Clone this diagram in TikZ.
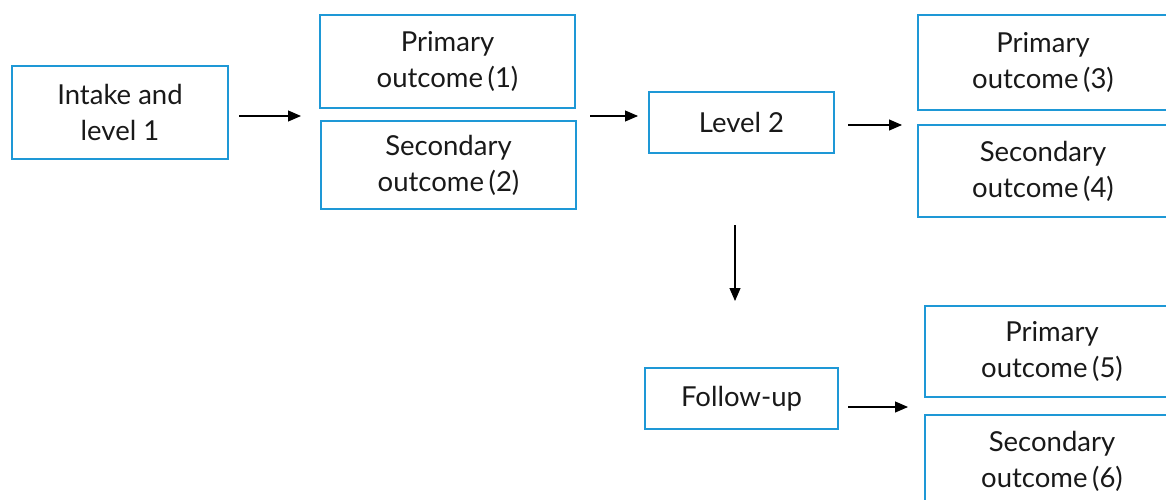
\documentclass[tikz,border=0pt]{standalone}
\usepackage{fontspec}
\setmainfont{Lato}
\usetikzlibrary{arrows.meta}
\definecolor{boxblue}{RGB}{30,152,214}
\begin{document}
\begin{tikzpicture}[x=1pt,y=-1pt,
  box/.style={draw=boxblue,line width=2pt,inner sep=0pt,align=center,
    font=\fontsize{27.5}{36}\selectfont,text=black!90},
  conn/.style={-{Triangle[length=13pt,width=11pt]},line width=1.1pt}]
\useasboundingbox (0,0) rectangle (1166,500);
\clip (0,0) rectangle (1166,500);
\node[box,minimum width=216pt,minimum height=93pt] (a) at (120,112.5) {Intake and\\level 1};
\node[box,minimum width=255pt,minimum height=93pt] (p1) at (447.5,61.5) {Primary\\outcome\,(1)};
\node[box,minimum width=255pt,minimum height=88pt] (s2) at (448.5,165) {Secondary\\outcome\,(2)};
\node[box,minimum width=185pt,minimum height=61pt] (l2) at (741.5,122.5) {Level 2};
\node[box,minimum width=250pt,minimum height=95pt] (p3) at (1043,62.5) {Primary\\outcome\,(3)};
\node[box,minimum width=250pt,minimum height=92pt] (s4) at (1043,171) {Secondary\\outcome\,(4)};
\node[box,minimum width=193pt,minimum height=61pt] (f) at (741.5,398.5) {Follow-up};
\node[box,minimum width=254pt,minimum height=91pt] (p5) at (1052,351.5) {Primary\\outcome\,(5)};
\node[box,minimum width=254pt,minimum height=92pt] (s6) at (1052,461) {Secondary\\outcome\,(6)};
\coordinate (a1s) at (239,116); \coordinate (a1e) at (301,116);
\coordinate (a2s) at (590,116); \coordinate (a2e) at (638,116);
\coordinate (a3s) at (848,125); \coordinate (a3e) at (902,125);
\coordinate (a4s) at (735,225); \coordinate (a4e) at (735,301);
\coordinate (a5s) at (848,407); \coordinate (a5e) at (908,407);
\draw[conn] (a1s) -- (a1e);
\draw[conn] (a2s) -- (a2e);
\draw[conn] (a3s) -- (a3e);
\draw[conn] (a4s) -- (a4e);
\draw[conn] (a5s) -- (a5e);
\end{tikzpicture}
\end{document}
